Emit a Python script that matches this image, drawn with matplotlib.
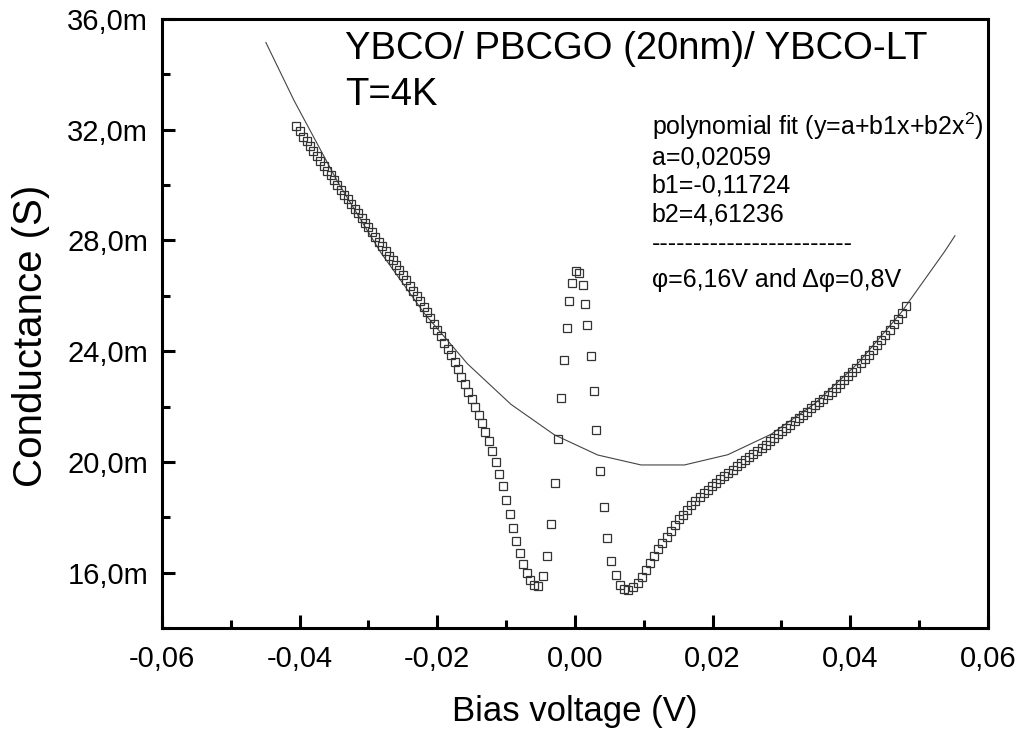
import matplotlib
matplotlib.use("Agg")
import matplotlib.pyplot as plt
import numpy as np
from matplotlib.ticker import MultipleLocator, FuncFormatter

plt.rcParams['font.family'] = ['Liberation Sans', 'DejaVu Sans']
plt.rcParams['mathtext.default'] = 'regular'

# measured points: bias (mV) and conductance (mS)
bias_mv = [
    -40.5, -40.0, -39.5, -39.0, -38.5, -38.0, -37.5, -37.0, -36.5, -36.0,
    -35.5, -35.0, -34.5, -34.0, -33.5, -33.0, -32.5, -32.0, -31.5, -31.0,
    -30.5, -30.0, -29.5, -29.0, -28.5, -28.0, -27.5, -27.0, -26.5, -26.0,
    -25.5, -25.0, -24.5, -24.0, -23.5, -23.0, -22.5, -22.0, -21.5, -21.0,
    -20.5, -20.0, -19.5, -19.0, -18.5, -18.0, -17.5, -17.0, -16.5, -16.0,
    -15.5, -15.0, -14.5, -14.0, -13.5, -13.0, -12.5, -12.0, -11.5, -11.0,
    -10.5, -10.0, -9.5, -9.0, -8.5, -8.0, -7.5, -7.0, -6.5, -6.0,
    -5.4, -4.7, -4.1, -3.5, -2.9, -2.5, -2.0, -1.6, -1.2, -0.8,
    -0.4, 0.1, 0.6, 1.1, 1.4, 1.8, 2.3, 2.7, 3.1, 3.6,
    4.2, 4.7, 5.3, 5.9, 6.5, 7.1, 7.7, 8.4, 9.1, 9.8,
    10.3, 10.9, 11.5, 12.1, 12.7, 13.3, 13.9, 14.5, 15.1, 15.7,
    16.3, 16.9, 17.5, 18.1, 18.7, 19.3, 19.9, 20.5, 21.1, 21.7,
    22.3, 22.9, 23.5, 24.1, 24.7, 25.3, 25.9, 26.5, 27.1, 27.7,
    28.3, 28.9, 29.5, 30.1, 30.7, 31.3, 31.9, 32.5, 33.1, 33.7,
    34.3, 34.9, 35.5, 36.1, 36.7, 37.3, 37.9, 38.5, 39.1, 39.7,
    40.3, 40.9, 41.5, 42.1, 42.7, 43.3, 43.9, 44.5, 45.1, 45.7,
    46.3, 46.9, 47.5, 48.1,
]
cond_ms = [
    32.15, 31.95, 31.75, 31.58, 31.40, 31.22, 31.05, 30.88, 30.70, 30.52,
    30.35, 30.18, 30.00, 29.83, 29.66, 29.49, 29.32, 29.15, 28.98, 28.81,
    28.64, 28.47, 28.30, 28.13, 27.96, 27.79, 27.62, 27.45, 27.28, 27.10,
    26.92, 26.74, 26.56, 26.37, 26.18, 25.99, 25.80, 25.60, 25.40, 25.19,
    24.98, 24.76, 24.54, 24.31, 24.08, 23.85, 23.60, 23.34, 23.07, 22.80,
    22.53, 22.26, 21.99, 21.70, 21.40, 21.09, 20.76, 20.40, 20.00, 19.58,
    19.12, 18.64, 18.12, 17.62, 17.15, 16.72, 16.33, 16.00, 15.72, 15.55,
    15.53, 15.87, 16.59, 17.76, 19.24, 20.83, 22.30, 23.67, 24.84, 25.80,
    26.45, 26.90, 26.84, 26.40, 25.72, 24.93, 23.82, 22.56, 21.17, 19.66,
    18.36, 17.24, 16.41, 15.92, 15.55, 15.41, 15.38, 15.49, 15.63, 15.83,
    16.10, 16.35, 16.60, 16.85, 17.08, 17.30, 17.50, 17.72, 17.92, 18.10,
    18.27, 18.44, 18.59, 18.73, 18.86, 19.00, 19.13, 19.25, 19.37, 19.49,
    19.60, 19.72, 19.84, 19.95, 20.06, 20.18, 20.29, 20.40, 20.51, 20.62,
    20.74, 20.87, 21.00, 21.12, 21.23, 21.35, 21.46, 21.58, 21.70, 21.81,
    21.93, 22.05, 22.16, 22.28, 22.40, 22.54, 22.68, 22.82, 22.96, 23.10,
    23.25, 23.40, 23.56, 23.72, 23.88, 24.05, 24.22, 24.40, 24.59, 24.78,
    24.97, 25.17, 25.38, 25.62,
]

# polynomial fit curve, as drawn
fit_mv = [-44.9, -40.8, -34.5, -28.2, -21.9, -15.6, -9.3, -3.0, 3.3,
          9.6, 15.9, 22.2, 28.5, 34.8, 41.1, 47.4, 53.7, 55.2]
fit_ms = [35.15, 33.05, 30.13, 27.56, 25.37, 23.54, 22.08, 20.98, 20.25,
          19.89, 19.89, 20.26, 21.00, 22.10, 23.56, 25.40, 27.60, 28.17]

v = np.array(bias_mv) / 1000
g = np.array(cond_ms) / 1000
fv = np.array(fit_mv) / 1000
fg = np.array(fit_ms) / 1000

fig = plt.figure(figsize=(10.27, 7.31), dpi=100)
ax = fig.add_axes([0.1577, 0.1409, 0.8043, 0.8331])

ax.plot(fv, fg, color='#444444', lw=0.8)
ax.plot(v, g, ls='none', marker='s', ms=5.7, mfc='none', mec='#333333', mew=0.9)

ax.set_xlim(-0.06, 0.06)
ax.set_ylim(0.014, 0.036)
ax.xaxis.set_major_locator(MultipleLocator(0.02))
ax.xaxis.set_minor_locator(MultipleLocator(0.01))
ax.yaxis.set_minor_locator(MultipleLocator(0.002))
ax.set_yticks(np.arange(0.016, 0.0361, 0.004))


def xfmt(x, pos):
    s = f"{round(x, 4):.2f}".replace('.', ',')
    return '0,00' if s == '-0,00' else s


def yfmt(y, pos):
    return f"{y * 1000:.1f}".replace('.', ',') + 'm'


ax.xaxis.set_major_formatter(FuncFormatter(xfmt))
ax.yaxis.set_major_formatter(FuncFormatter(yfmt))

for s in ax.spines.values():
    s.set_linewidth(2.2)
ax.tick_params(which='both', direction='in', top=False, right=False, width=2.2)
ax.tick_params(which='major', length=9.5, labelsize=21, pad=10)
ax.tick_params(which='minor', length=6)
ax.tick_params(axis='x', which='major', pad=12)

ax.set_xlabel('Bias voltage (V)', fontsize=25, labelpad=16)
ax.set_ylabel('Conductance (S)', fontsize=29)
ax.yaxis.set_label_coords(-0.136, 0.48)

tr = ax.transAxes
ax.text(0.2215, 0.935, 'YBCO/ PBCGO (20nm)/ YBCO-LT', fontsize=27.5, transform=tr, va='baseline')
ax.text(0.2215, 0.858, 'T=4K', fontsize=27.5, transform=tr, va='baseline')

x0 = 0.593
fs = 18
ax.text(x0, 0.8095, 'polynomial fit (y=a+b1x+b2x$^{2}$)', fontsize=fs, transform=tr, va='baseline')
ax.text(x0, 0.7619, 'a=0,02059', fontsize=fs, transform=tr, va='baseline')
ax.text(x0, 0.7143, 'b1=-0,11724', fontsize=fs, transform=tr, va='baseline')
ax.text(x0, 0.6683, 'b2=4,61236', fontsize=fs, transform=tr, va='baseline')
ax.text(x0, 0.619, '-' * 24, fontsize=fs, transform=tr, va='baseline')
ax.text(x0, 0.560, 'φ=6,16V and Δφ=0,8V', fontsize=fs, transform=tr, va='baseline')

fig.savefig('out.png', dpi=100)
